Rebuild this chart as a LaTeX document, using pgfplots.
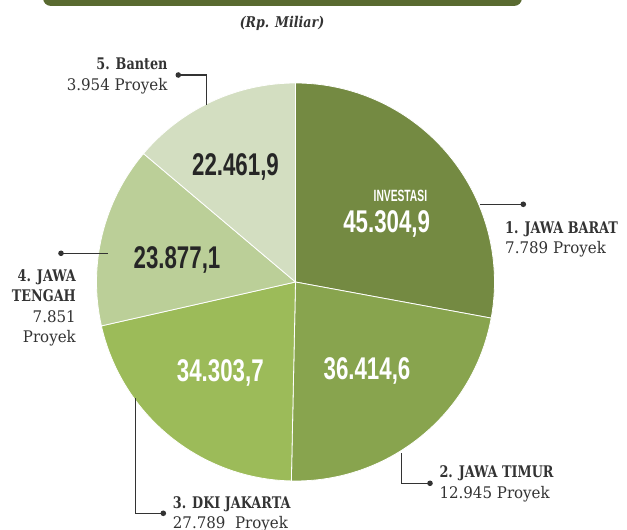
\documentclass[border=0pt]{standalone}
\usepackage{pgfplots}
\pgfplotsset{compat=1.18}
\usepackage{pgfplotstable}
\usepackage{fontspec}
\setmainfont{DejaVu Serif}[FakeStretch=0.94, BoldFeatures={FakeStretch=0.80}, BoldItalicFeatures={FakeStretch=0.85}]
\newfontfamily\numfont{Liberation Sans}[FakeStretch=0.71]
\newfontfamily\smallnum{Liberation Sans}[FakeStretch=0.63]

\definecolor{cJB}{HTML}{748A42}
\definecolor{cJT}{HTML}{88A44E}
\definecolor{cDKI}{HTML}{9CBB59}
\definecolor{cJTg}{HTML}{BBCF98}
\definecolor{cBT}{HTML}{D3DEC1}
\definecolor{cBar}{HTML}{596A30}
\definecolor{cTxt}{HTML}{333333}
\definecolor{cNum}{HTML}{262626}

\pgfplotstableread{
value col
45304.9 cJB
36414.6 cJT
34303.7 cDKI
23877.1 cJTg
22461.9 cBT
}\piedata

\begin{document}
\begin{tikzpicture}
\useasboundingbox (0,0) rectangle (627bp,530bp);
\begin{axis}[at={(0,0)}, anchor=south west, x=1bp, y=1bp,
  xmin=0, xmax=627, ymin=0, ymax=530, hide axis, clip=false]
% top bar
\fill[cBar, rounded corners=8bp] (axis cs:43,548) rectangle (axis cs:522,524);
\node[anchor=base, inner sep=0, text=cTxt, font=\fontsize{14.8bp}{16bp}\selectfont\bfseries\itshape] at (axis cs:282,502.3) {(Rp. Miliar)};
% pie
\xdef\tot{0}
\pgfplotsinvokeforeach{0,...,4}{%
  \pgfplotstablegetelem{#1}{value}\of\piedata
  \xdef\tot{\fpeval{\tot+\pgfplotsretval}}%
}
\xdef\cur{90}
\pgfplotsinvokeforeach{0,...,4}{%
  \pgfplotstablegetelem{#1}{value}\of\piedata
  \xdef\nxt{\fpeval{round(\cur-360*\pgfplotsretval/\tot,4)}}%
  \pgfplotstablegetelem{#1}{col}\of\piedata
  \edef\tmp{\noexpand\fill[fill=\pgfplotsretval, draw=white, line width=0.8bp, line join=round]
     (axis cs:295.5,248) -- ++(\cur:199bp) arc[start angle=\cur, end angle=\nxt, radius=199bp] -- cycle;}%
  \tmp
  \xdef\cur{\nxt}%
}
% leader lines
\draw[cTxt, line width=1.2bp] (axis cs:178.3,455) -- (axis cs:206.7,455) -- (axis cs:206.7,425);
\fill[cTxt] (axis cs:178.3,455) circle[radius=2.8bp];
\draw[cTxt, line width=1.2bp] (axis cs:61,276.7) -- (axis cs:108.3,276.7);
\fill[cTxt] (axis cs:61,276.7) circle[radius=2.8bp];
\draw[cTxt, line width=1.2bp] (axis cs:480,325.7) -- (axis cs:523.3,325.7);
\fill[cTxt] (axis cs:523.3,325.7) circle[radius=2.8bp];
\draw[cTxt, line width=1.2bp] (axis cs:401.7,76.7) -- (axis cs:401.7,46.7) -- (axis cs:430,46.7);
\fill[cTxt] (axis cs:430,46.7) circle[radius=2.8bp];
\draw[cTxt, line width=1.2bp] (axis cs:135.7,132) -- (axis cs:135.7,16.7) -- (axis cs:163.3,16.7);
\fill[cTxt] (axis cs:163.3,16.7) circle[radius=2.8bp];
% labels
\begin{scope}[every node/.style={inner sep=0, text=cTxt, font=\fontsize{16bp}{20bp}\selectfont}]
\node[anchor=base west, font=\fontsize{16bp}{20bp}\selectfont\bfseries] at (axis cs:505,297) {1. JAWA BARAT};
\node[anchor=base west] at (axis cs:505,276.7) {7.789 Proyek};
\node[anchor=base west, font=\fontsize{16bp}{20bp}\selectfont\bfseries] at (axis cs:439.3,52.7) {2. JAWA TIMUR};
\node[anchor=base west] at (axis cs:439.3,31.7) {12.945 Proyek};
\node[anchor=base west, font=\fontsize{16bp}{20bp}\selectfont\bfseries] at (axis cs:172.7,21.7) {3. DKI JAKARTA};
\node[anchor=base west] at (axis cs:172.7,1.7) {27.789\ \ Proyek};
\node[anchor=base east, font=\fontsize{16bp}{20bp}\selectfont\bfseries] at (axis cs:76,248.3) {4. JAWA};
\node[anchor=base east, font=\fontsize{16bp}{20bp}\selectfont\bfseries] at (axis cs:76,228.3) {TENGAH};
\node[anchor=base east] at (axis cs:76,207.3) {7.851};
\node[anchor=base east] at (axis cs:76,187.3) {Proyek};
\node[anchor=base east, font=\fontsize{16bp}{20bp}\selectfont\bfseries] at (axis cs:167.7,460) {5. Banten};
\node[anchor=base east] at (axis cs:167.7,439.3) {3.954 Proyek};
\end{scope}
% values
\begin{scope}[every node/.style={inner sep=0, anchor=base, font=\fontsize{31.4bp}{34bp}\numfont\bfseries}]
\node[text=white] at (axis cs:386.7,297.3) {45.304,9};
\node[text=cNum] at (axis cs:235.5,355) {22.461,9};
\node[text=cNum] at (axis cs:177,261.7) {23.877,1};
\node[text=white] at (axis cs:220.3,148.3) {34.303,7};
\node[text=white] at (axis cs:367,151) {36.414,6};
\end{scope}
\node[inner sep=0, anchor=base east, text=white, font=\fontsize{16.3bp}{18bp}\smallnum\bfseries] at (axis cs:427.3,328.3) {INVESTASI};
\end{axis}
\end{tikzpicture}
\end{document}
